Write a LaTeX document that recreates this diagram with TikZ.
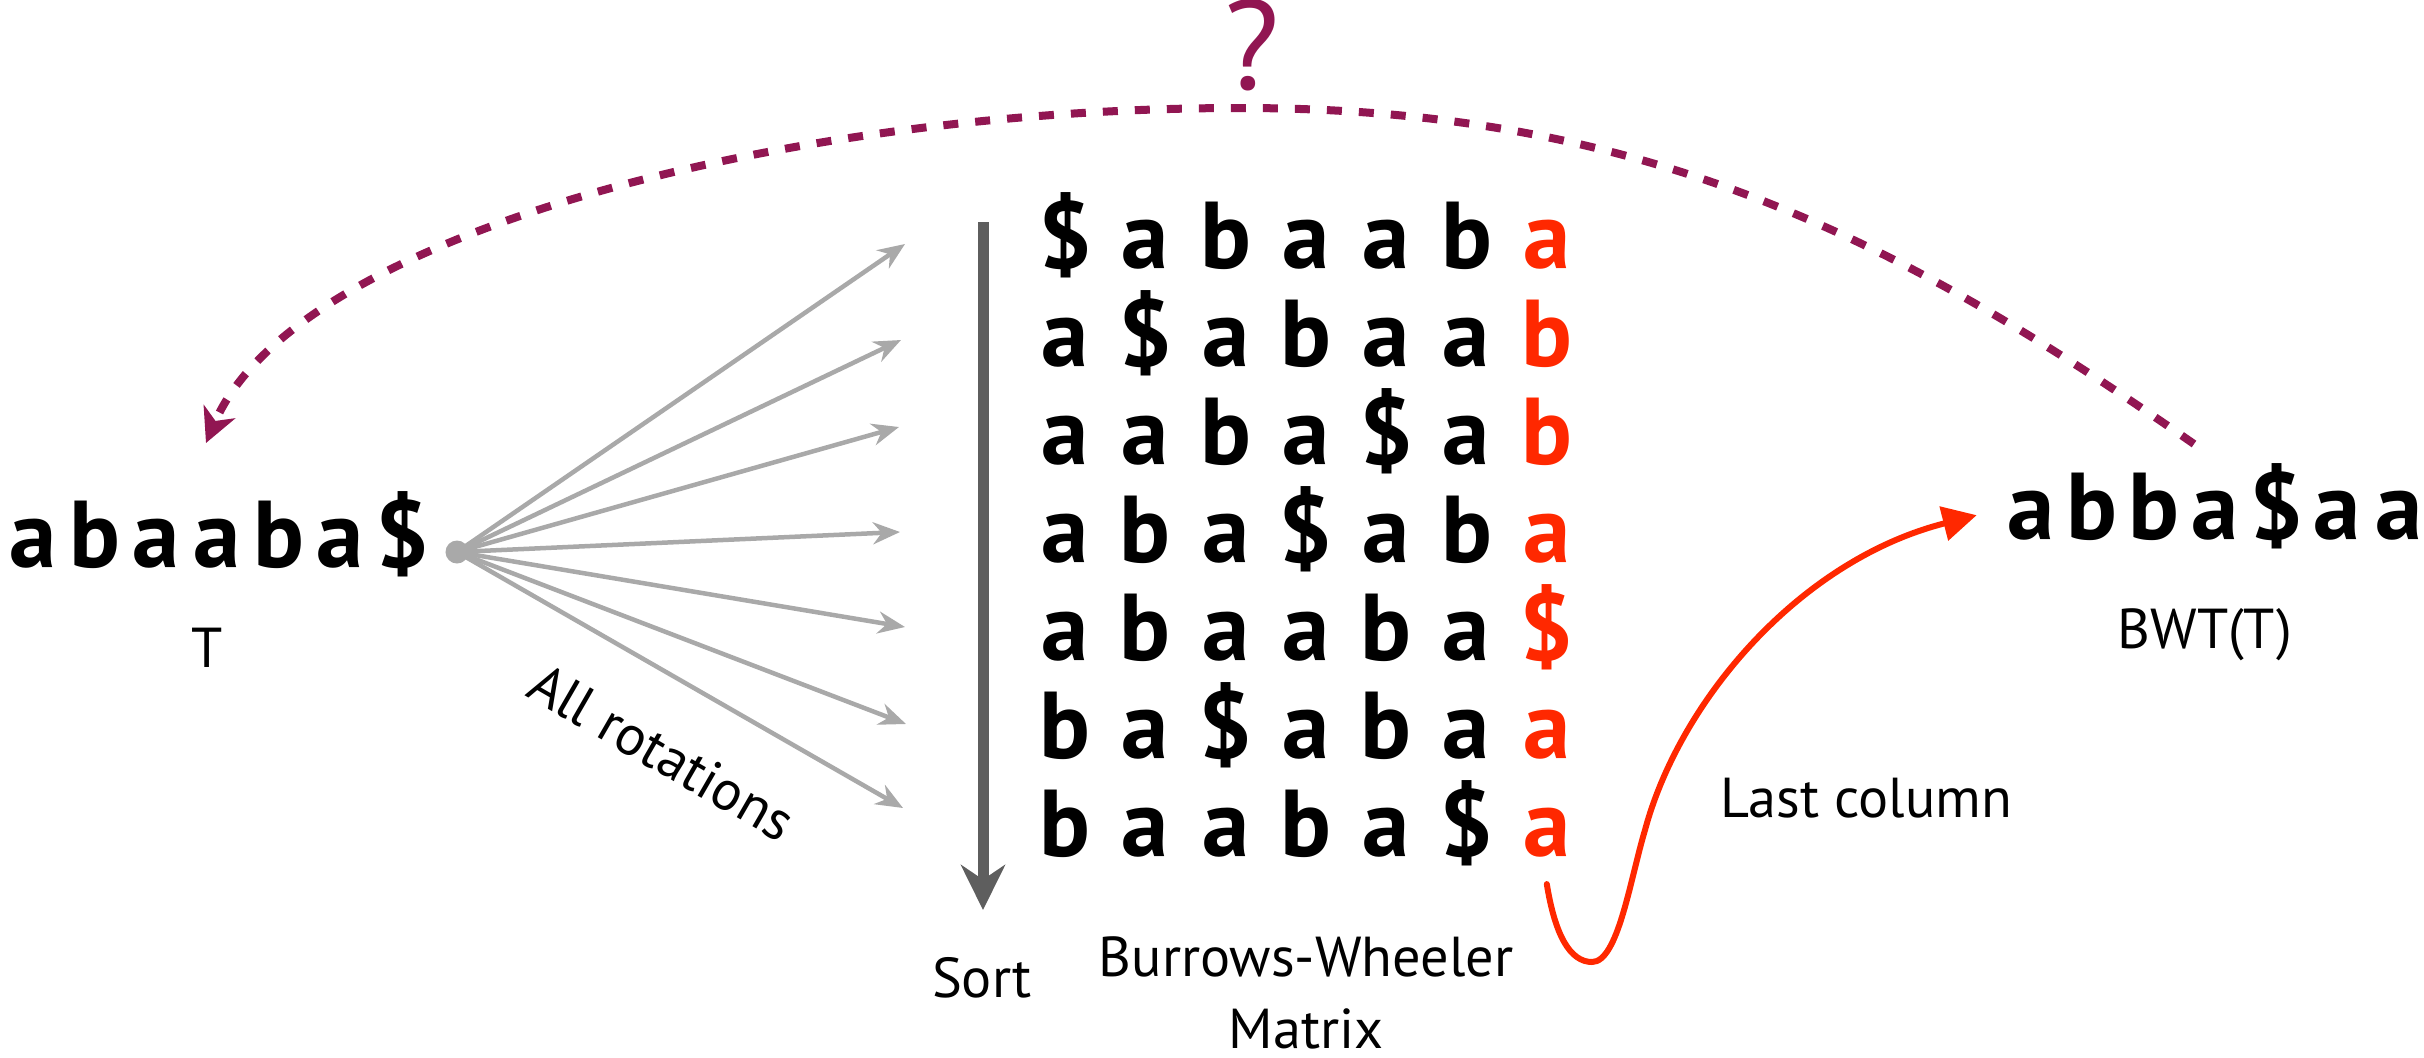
\documentclass[tikz,border=0pt]{standalone}
\usepackage{fontspec}
\setmainfont{PT Sans}
\usepackage{tikz}
\usetikzlibrary{arrows.meta}
\definecolor{fangray}{RGB}{169,169,169}
\definecolor{sortgray}{RGB}{94,94,94}
\definecolor{bwtred}{RGB}{255,40,0}
\definecolor{purplered}{RGB}{145,22,82}

\begin{document}
\begin{tikzpicture}[line cap=round,line join=round,x=0.01cm,y=-0.01cm,
	mletter/.style={anchor=base,inner sep=0pt,font=\bfseries\fontsize{27}{30}\selectfont},
	txtlabel/.style={anchor=base,inner sep=0pt,font=\fontsize{16}{20.2}\selectfont}]
	\useasboundingbox (0,0) rectangle (2424,1057);
	% Text T
	\foreach \ch [count=\k from 0] in {a,b,a,a,b,a,\$}
	\node[mletter] (t\k) at (33+61.5*\k,567) {\ch};
	\node[txtlabel] (tname) at (207,667) {T};
	% alle Rotationen
	\coordinate (hub) at (457,552);
	\foreach \tx/\ty [count=\i] in {905/244,901/340,899/427,900/532,905/627,906/724,903/808}{
		\coordinate (fan\i) at (\tx,\ty);
		\draw[fangray,line width=0.045cm,-{Stealth[length=0.27cm,width=0.22cm]}] (hub) -- (fan\i);
	}
	\fill[fangray] (hub) circle (0.115cm);
	\node[txtlabel,anchor=center,rotate=-30] (rot) at (662,752) {All rotations};
	% Sortieren
	\coordinate (sorttop) at (983,222);
	\coordinate (sortend) at (983,910);
	\draw[sortgray,line width=0.11cm,line cap=butt,-{Stealth[length=0.45cm,width=0.44cm]}] (sorttop) -- (sortend);
	\node[txtlabel] (sort) at (982,997) {Sort};
	% Matrix
	\foreach \rowtext [count=\r from 0] in {{\$,a,b,a,a,b,a},{a,\$,a,b,a,a,b},{a,a,b,a,\$,a,b},{a,b,a,\$,a,b,a},{a,b,a,a,b,a,\$},{b,a,\$,a,b,a,a},{b,a,a,b,a,\$,a}}{
		\foreach \ch [count=\k from 0] in \rowtext {
			\ifnum\k=6 \def\lettercol{bwtred}\else\def\lettercol{black}\fi
			\node[mletter,text=\lettercol] (m\r\k) at (1065+80.3*\k,268+98.1*\r) {\ch};
		}
	}
	\node[txtlabel,align=center] (bwm) at (1306,1048) {Burrows-Wheeler\\Matrix};
	% BWT
	\foreach \ch [count=\k from 0] in {a,b,b,a,\$,a,a}
	\node[mletter] (b\k) at (2031+61.3*\k,539) {\ch};
	\node[txtlabel] (bwtname) at (2205,648) {BWT(T)};
	\node[txtlabel,anchor=base west] (lastcol) at (1720,817) {Last column};
	% letzte Spalte
	\draw[bwtred,line width=0.06cm,-{Triangle[length=0.34cm,width=0.34cm]}] ([yshift=-0.26cm]m66.south) .. controls (1555,935) and (1570,962) .. (1592,962) .. controls (1618,962) and (1630,880) .. (1645,830) .. controls (1680,700) and (1800,560) .. ([xshift=-0.3cm]b0.west);
	% Frage
	\coordinate (arcR) at (2194,444);
	\coordinate (arcL) at (206,443);
	\draw[purplered,line width=0.08cm,line cap=butt,dash pattern=on 0.15cm off 0.17cm,-{Stealth[length=0.34cm,width=0.34cm,inset=0.1cm]}] (arcR) .. controls (1894,235) and (1640,108) .. (1240,108) .. controls (790,108) and (296,233) .. (arcL);
	\node[font=\fontsize{36}{40}\selectfont,text=purplered,inner sep=0pt] (qmark) at (1252,45) {?};
\end{tikzpicture}
\end{document}
